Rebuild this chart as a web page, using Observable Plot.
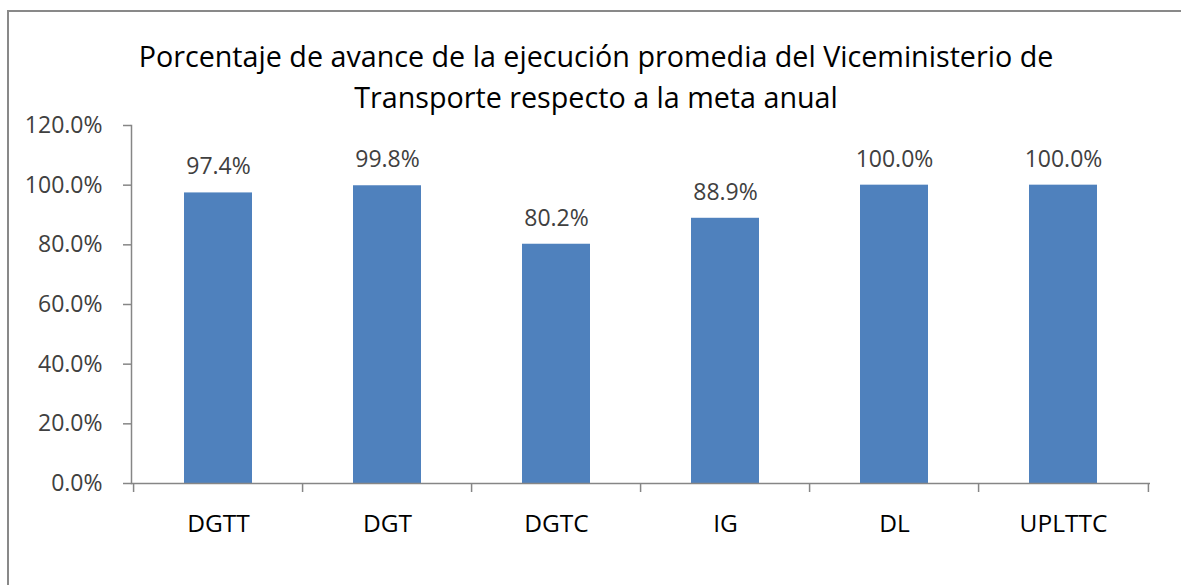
<!DOCTYPE html>
<html><head><meta charset="utf-8">
<script src="https://cdn.jsdelivr.net/npm/d3@7"></script>
<script src="https://cdn.jsdelivr.net/npm/@observablehq/plot@0.6"></script>
<style>
body{margin:0;background:#fff;}
#wrap{position:relative;width:1181px;height:585px;overflow:hidden;font-family:"Open Sans",sans-serif;background:#fff;}
#border{position:absolute;left:7px;top:10px;width:1300px;height:700px;border-left:2px solid #898989;border-top:2px solid #898989;}
#title{position:absolute;left:10px;width:1172px;top:35px;text-align:center;font-size:28.7px;line-height:41px;color:#000;}
#chart{position:absolute;left:0;top:0;}
</style></head>
<body>
<div id="wrap">
<div id="border"></div>
<div id="title">Porcentaje de avance de la ejecución promedia del Viceministerio de<br>Transporte respecto a la meta anual</div>
<div id="chart"></div>
</div>
<script>
const categories = ["DGTT", "DGT", "DGTC", "IG", "DL", "UPLTTC"];
const values = [97.4, 99.8, 80.2, 88.9, 100.0, 100.0];
const yTicks = [0, 20, 40, 60, 80, 100, 120];

const data = categories.map((c, i) => ({cat: c, value: values[i]}));
const W = 1181, H = 585, mL = 131, mR = 31, mT = 125, mB = 102;
const step = (W - mL - mR) / categories.length;
const grey = "#868686";
const fmt = d => d.toFixed(1) + "%";

const chart = Plot.plot({
  width: W, height: H,
  marginLeft: mL, marginRight: mR, marginTop: mT, marginBottom: mB,
  style: {fontFamily: "'Open Sans', sans-serif", background: "transparent", overflow: "visible"},
  x: {domain: categories, paddingInner: 0.6, paddingOuter: 0.3, label: null},
  y: {domain: [0, 120], label: null},
  marks: [
    Plot.barY(data, {x: "cat", y: "value", fill: "#4F81BD"}),
    Plot.text(data, {x: "cat", y: "value", text: d => fmt(d.value), dy: -26, fontSize: 23, fill: "#404040"}),
    Plot.axisY({ticks: yTicks, tickFormat: fmt, tickSize: 8, tickPadding: 21, stroke: grey, strokeWidth: 1.5, fontSize: 23, fill: "#404040", label: null}),
    Plot.axisX({tickSize: 0, tickPadding: 31, fontSize: 24.5, fill: "#000", label: null}),
    Plot.axisX({tickSize: 9, tickFormat: () => "", dx: -step / 2, stroke: grey, strokeWidth: 1.5, label: null}),
    Plot.axisX([categories[categories.length - 1]], {tickSize: 9, tickFormat: () => "", dx: step / 2, stroke: grey, strokeWidth: 1.5, label: null}),
    Plot.ruleY([0], {stroke: grey, strokeWidth: 1.5}),
    Plot.frame({anchor: "left", stroke: grey, strokeWidth: 1.5})
  ]
});
document.getElementById("chart").append(chart);
</script>
</body></html>
